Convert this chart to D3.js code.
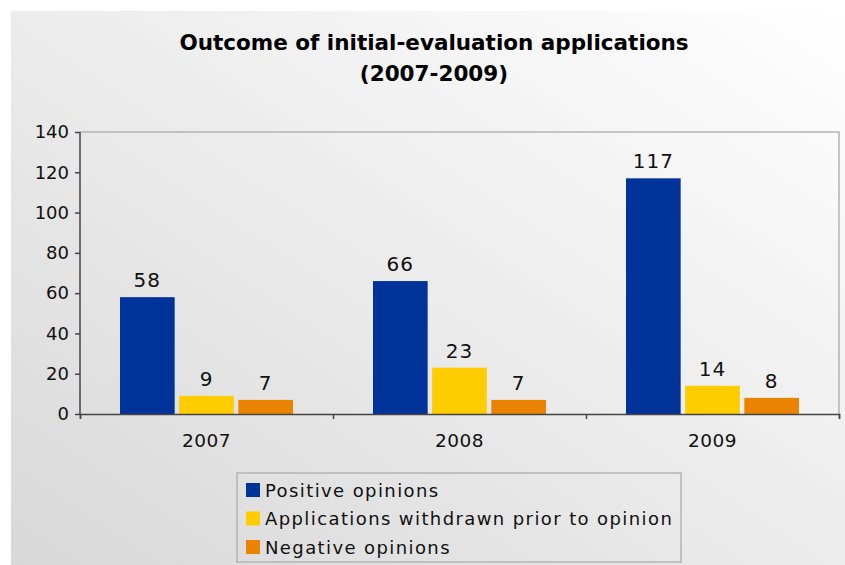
<!DOCTYPE html>
<html>
<head>
<meta charset="utf-8">
<script src="https://cdn.jsdelivr.net/npm/d3@7"></script>
<style>
  body { margin: 0; background: #fff; }
  svg { display: block; font-family: "DejaVu Sans", Verdana, sans-serif; }
</style>
</head>
<body>
<svg width="845" height="565"></svg>
<script>
var years = ["2007", "2008", "2009"];
var seriesNames = ["Positive opinions", "Applications withdrawn prior to opinion", "Negative opinions"];
var positive = [58, 66, 117];
var withdrawn = [9, 23, 14];
var negative = [7, 7, 8];
var yTicks = [0, 20, 40, 60, 80, 100, 120, 140];
var colors = ["#003399", "#ffcc00", "#e98300"];

var svg = d3.select("svg");
var margin = {top: 132, right: 6, bottom: 151, left: 80};
var width = 845 - margin.left - margin.right,
    height = 565 - margin.top - margin.bottom;

// background gradient
var defs = svg.append("defs");
var grad = defs.append("linearGradient")
    .attr("id", "bg")
    .attr("x1", "100%").attr("y1", "0%")
    .attr("x2", "0%").attr("y2", "100%");
grad.append("stop").attr("offset", "0%").attr("stop-color", "#ffffff");
grad.append("stop").attr("offset", "100%").attr("stop-color", "#d8d8d8");

svg.append("rect")
    .attr("x", 11).attr("y", 11)
    .attr("width", 834).attr("height", 554)
    .attr("fill", "url(#bg)");

svg.append("text")
    .attr("x", 434).attr("y", 50)
    .attr("text-anchor", "middle")
    .style("font-size", "21.5px").style("font-weight", "bold")
    .text("Outcome of initial-evaluation applications");
svg.append("text")
    .attr("x", 434).attr("y", 81)
    .attr("text-anchor", "middle")
    .style("font-size", "21.5px").style("font-weight", "bold")
    .text("(2007-2009)");

var data = years.map(function(y, i) {
    return {year: y, values: [positive[i], withdrawn[i], negative[i]]};
});

var x0 = d3.scaleBand().domain(years).range([0, width]);
var x1 = d3.scaleBand().domain(d3.range(seriesNames.length))
    .range([40, x0.bandwidth() - 40]).paddingInner(0.076);
var y = d3.scaleLinear().domain([0, 140]).range([height, 0]);

var g = svg.append("g")
    .attr("transform", "translate(" + margin.left + "," + margin.top + ")");

// plot border top / right
g.append("path")
    .attr("d", "M0,0H" + width + "V" + height)
    .attr("fill", "none")
    .attr("stroke", "#b4b4b4")
    .attr("stroke-width", 1.5);

var groups = g.selectAll(".grp")
    .data(data)
    .enter().append("g")
    .attr("class", "grp")
    .attr("transform", function(d) { return "translate(" + x0(d.year) + ",0)"; });

groups.selectAll("rect")
    .data(function(d) { return d.values; })
    .enter().append("rect")
    .attr("x", function(d, i) { return x1(i); })
    .attr("y", function(d) { return y(d); })
    .attr("width", x1.bandwidth())
    .attr("height", function(d) { return height - y(d); })
    .attr("fill", function(d, i) { return colors[i]; });

groups.selectAll("text")
    .data(function(d) { return d.values; })
    .enter().append("text")
    .attr("x", function(d, i) { return x1(i) + x1.bandwidth() / 2; })
    .attr("y", function(d) { return y(d) - 10; })
    .attr("text-anchor", "middle")
    .style("font-size", "20px")
    .style("letter-spacing", "1px")
    .attr("fill", "#111")
    .text(function(d) { return d; });

// y axis
var yAxis = g.append("g")
    .call(d3.axisLeft(y).tickValues(yTicks).tickSize(5).tickPadding(6));
yAxis.selectAll("text").style("font-size", "18px").attr("fill", "#111")
    .style("font-family", "DejaVu Sans, Verdana, sans-serif");

// x axis with ticks at category boundaries
var xAxis = g.append("g")
    .attr("transform", "translate(0," + height + ")");
xAxis.append("g")
    .call(d3.axisBottom(d3.scaleLinear().domain([0, 3]).range([0, width]))
        .ticks(3).tickSize(5).tickFormat(""));
years.forEach(function(yr) {
    xAxis.append("text")
        .attr("x", x0(yr) + x0.bandwidth() / 2)
        .attr("y", 33)
        .attr("text-anchor", "middle")
        .style("font-size", "18.5px")
        .style("letter-spacing", "0.5px")
        .attr("fill", "#111")
        .text(yr);
});
svg.selectAll(".domain, .tick line").attr("stroke", "#444").attr("stroke-width", 1.5);
yAxis.select(".domain").attr("d", "M0," + height + "V0");

// legend
var legend = svg.append("g").attr("transform", "translate(237,473)");
legend.append("rect")
    .attr("width", 444).attr("height", 89)
    .attr("fill", "none")
    .attr("stroke", "#b4b4b4").attr("stroke-width", 1.5);
seriesNames.forEach(function(name, i) {
    var row = legend.append("g").attr("transform", "translate(9," + (17 + i * 28.5) + ")");
    row.append("rect")
        .attr("x", 0).attr("y", -7)
        .attr("width", 14).attr("height", 14)
        .attr("fill", colors[i]);
    row.append("text")
        .attr("x", 19).attr("y", 6.5)
        .style("font-size", "18px")
        .style("letter-spacing", "1.4px")
        .attr("fill", "#111")
        .text(name);
});
</script>
</body>
</html>
